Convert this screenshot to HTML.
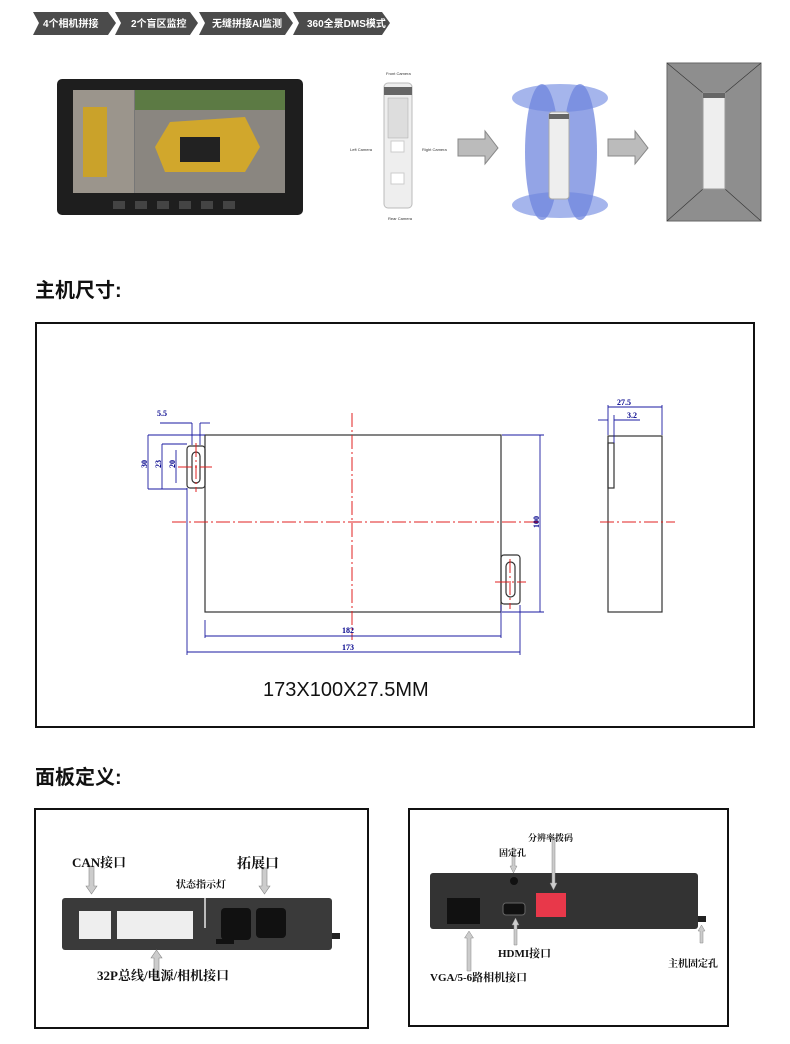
<!DOCTYPE html>
<html><head><meta charset="utf-8"><style>
body{margin:0;width:790px;height:1044px;background:#fff;position:relative;overflow:hidden;font-family:"Liberation Sans","Noto Sans CJK SC",sans-serif}
.a{position:absolute}
.h{font-weight:bold;font-size:20px;color:#111}
.lbl{position:absolute;font-family:"Liberation Serif","Noto Serif CJK SC",serif;font-weight:bold;color:#111}
</style></head><body>
<svg class="a" style="left:0;top:0" width="400" height="40">
<g fill="#4b4b4b">
<polygon points="33,12 108,12 116,23 108,35 33,35 39,23"/>
<polygon points="115,12 190,12 198,23 190,35 115,35 121,23"/>
<polygon points="199,12 285,12 293,23 285,35 199,35 205,23"/>
<polygon points="293,12 382,12 390,23 382,35 293,35 299,23"/>
</g>
<g fill="#fff" font-size="10" font-family="Liberation Sans,Noto Sans CJK SC,sans-serif" font-weight="bold">
<text x="43" y="27">4个相机拼接</text><text x="131" y="27">2个盲区监控</text>
<text x="212" y="27">无缝拼接AI监测</text><text x="307" y="27">360全景DMS模式</text></g>
</svg>
<svg class="a" style="left:55;top:77" width="252" height="142">
<rect x="2" y="2" width="246" height="136" rx="5" fill="#1e1e1e"/>
<rect x="18" y="13" width="212" height="103" fill="#777"/>
<rect x="18" y="13" width="61" height="103" fill="#9b958c"/>
<rect x="80" y="13" width="150" height="103" fill="#8a8680"/>
<rect x="80" y="13" width="150" height="20" fill="#5c7a44"/>
<rect x="28" y="30" width="24" height="70" fill="#caa22a"/>
<polygon points="115,45 190,40 205,70 190,95 110,95 100,70" fill="#d1a72c"/>
<rect x="125" y="60" width="40" height="25" fill="#222"/>
<g fill="#444"><rect x="58" y="124" width="12" height="8"/><rect x="80" y="124" width="12" height="8"/><rect x="102" y="124" width="12" height="8"/><rect x="124" y="124" width="12" height="8"/><rect x="146" y="124" width="12" height="8"/><rect x="168" y="124" width="12" height="8"/></g>
</svg>
<svg class="a" style="left:340;top:55" width="450" height="175" font-family="Liberation Sans,sans-serif" font-size="4" fill="#333">
<text x="46" y="20">Front Camera</text><text x="10" y="96">Left Camera</text><text x="82" y="96">Right Camera</text><text x="48" y="165">Rear Camera</text>
<rect x="44" y="28" width="28" height="125" rx="4" fill="#eee" stroke="#bbb"/>
<rect x="44" y="32" width="28" height="8" fill="#666"/>
<rect x="48" y="43" width="20" height="40" fill="#ddd" stroke="#aaa" stroke-width=".5"/>
<rect x="51" y="86" width="13" height="11" fill="#fff" stroke="#ccc"/><rect x="51" y="118" width="13" height="11" fill="#fff" stroke="#ccc"/>
<polygon points="118,84 145,84 145,76 158,93 145,109 145,101 118,101" fill="#bbb" stroke="#888"/>
<ellipse cx="220" cy="43" rx="48" ry="14" fill="#7f95e4" opacity=".7"/>
<ellipse cx="220" cy="150" rx="48" ry="13" fill="#7f95e4" opacity=".7"/>
<ellipse cx="202" cy="97" rx="17" ry="68" fill="#6f86de" opacity=".75"/>
<ellipse cx="240" cy="97" rx="17" ry="68" fill="#6f86de" opacity=".75"/>
<rect x="209" y="57" width="20" height="87" rx="3" fill="#eee" stroke="#aaa"/>
<rect x="209" y="59" width="20" height="5" fill="#666"/>
<polygon points="268,84 295,84 295,76 308,93 295,109 295,101 268,101" fill="#bbb" stroke="#888"/>
<rect x="327" y="8" width="94" height="158" fill="#8e8e8e" stroke="#666"/>
<path d="M327,8 L363,38 M421,8 L385,38 M327,166 L363,134 M421,166 L385,134" stroke="#333" stroke-width=".6"/>
<rect x="363" y="38" width="22" height="96" fill="#eee" stroke="#999"/>
<rect x="363" y="38" width="22" height="5" fill="#666"/>
</svg>
<div class="a h" style="left:35px;top:274px">主机尺寸:</div>
<div class="a" style="left:35px;top:322px;width:716px;height:402px;border:2px solid #111"></div>
<svg class="a" style="left:130;top:395" width="560" height="270" font-family="Liberation Serif,serif" font-size="8" font-weight="bold" fill="#00008b">
<g stroke="#333" fill="none" stroke-width="1.2">
<rect x="75" y="40" width="296" height="177"/>
<rect x="57" y="51" width="18" height="42" rx="3"/>
<rect x="62" y="57" width="8" height="31" rx="4"/>
<rect x="371" y="160" width="19" height="49" rx="3"/>
<rect x="376" y="167" width="9" height="35" rx="4.5"/>
<rect x="478" y="41" width="54" height="176"/>
<rect x="478" y="48" width="6" height="45"/>
</g>
<g stroke="#e02020" stroke-dasharray="14,3,2,3" stroke-width="1">
<line x1="222" y1="18" x2="222" y2="245"/><line x1="42" y1="127" x2="410" y2="127"/>
<line x1="470" y1="127" x2="545" y2="127"/><line x1="48" y1="72" x2="82" y2="72"/><line x1="66" y1="48" x2="66" y2="97"/>
<line x1="365" y1="187" x2="396" y2="187"/><line x1="380" y1="164" x2="380" y2="214"/>
</g>
<g stroke="#1a1aa0" stroke-width=".9" fill="none">
<line x1="410" y1="40" x2="410" y2="217"/><line x1="372" y1="40" x2="414" y2="40"/><line x1="372" y1="217" x2="414" y2="217"/>
<line x1="75" y1="225" x2="75" y2="243"/><line x1="371" y1="210" x2="371" y2="243"/><line x1="75" y1="241" x2="371" y2="241"/>
<line x1="57" y1="93" x2="57" y2="260"/><line x1="390" y1="210" x2="390" y2="260"/><line x1="57" y1="257" x2="390" y2="257"/>
<line x1="18" y1="40" x2="18" y2="94"/><line x1="18" y1="40" x2="75" y2="40"/><line x1="18" y1="94" x2="57" y2="94"/>
<line x1="32" y1="49" x2="32" y2="94"/><line x1="32" y1="49" x2="57" y2="49"/><line x1="46" y1="55" x2="46" y2="88"/>
<line x1="30" y1="28" x2="62" y2="28"/><line x1="62" y1="28" x2="62" y2="50"/><line x1="70" y1="28" x2="80" y2="28"/><line x1="70" y1="28" x2="70" y2="50"/>
<line x1="478" y1="10" x2="478" y2="40"/><line x1="532" y1="10" x2="532" y2="40"/><line x1="478" y1="12" x2="532" y2="12"/>
<line x1="468" y1="25" x2="478" y2="25"/><line x1="484" y1="25" x2="510" y2="25"/><line x1="484" y1="20" x2="484" y2="48"/>
</g>
<text x="212" y="238">182</text><text x="212" y="255">173</text>
<text x="27" y="21">5.5</text><text x="487" y="10">27.5</text><text x="497" y="23">3.2</text>
<text transform="translate(409,133) rotate(-90)">100</text>
<text transform="translate(17,73) rotate(-90)">30</text><text transform="translate(31,73) rotate(-90)">23</text><text transform="translate(45,73) rotate(-90)">20</text>
</svg>
<div class="a" style="left:263px;top:679px;font-size:20px;color:#111">173X100X27.5MM</div>
<div class="a h" style="left:35px;top:761px">面板定义:</div>
<div class="a" style="left:34px;top:808px;width:331px;height:217px;border:2px solid #111"></div>
<svg class="a" style="left:34;top:808" width="335" height="220">
<rect x="28" y="90" width="270" height="52" rx="3" fill="#3a3a3a"/>
<rect x="298" y="125" width="8" height="6" fill="#222"/>
<rect x="45" y="103" width="32" height="28" fill="#eee"/>
<rect x="83" y="103" width="76" height="28" fill="#eee"/>
<rect x="187" y="100" width="30" height="32" rx="4" fill="#111"/>
<rect x="222" y="100" width="30" height="30" rx="4" fill="#111"/>
<rect x="182" y="131" width="18" height="5" fill="#111"/>
<g fill="#ccc" stroke="#888" stroke-width=".6">
<path d="M55,58 h5 v20 h3 l-5.5,8 l-5.5,-8 h3z"/>
<path d="M228,60 h5 v18 h3 l-5.5,8 l-5.5,-8 h3z"/>
<path d="M120,170 h5 v-20 h3 l-5.5,-8 l-5.5,8 h3z"/>
</g>
<rect x="170" y="90" width="2" height="30" fill="#bbb"/>
</svg>
<div class="lbl" style="left:72px;top:852px;font-size:13px">CAN接口</div>
<div class="lbl" style="left:237px;top:853px;font-size:14px">拓展口</div>
<div class="lbl" style="left:176px;top:876px;font-size:10px">状态指示灯</div>
<div class="lbl" style="left:97px;top:965px;font-size:13px">32P总线/电源/相机接口</div>
<div class="a" style="left:408px;top:808px;width:317px;height:215px;border:2px solid #111"></div>
<svg class="a" style="left:408;top:808" width="320" height="220">
<rect x="22" y="65" width="268" height="56" rx="3" fill="#333"/>
<rect x="290" y="108" width="8" height="6" fill="#222"/>
<rect x="39" y="90" width="33" height="26" fill="#111"/>
<rect x="95" y="95" width="22" height="12" rx="3" fill="#111" stroke="#666"/>
<rect x="128" y="85" width="30" height="24" fill="#e8384a"/>
<circle cx="106" cy="73" r="4" fill="#111"/>
<g fill="#ccc" stroke="#888" stroke-width=".5">
<path d="M59,163 h4 v-33 h2.5 l-4.5,-7 l-4.5,7 h2.5z"/>
<path d="M104,40 h3 v18 h2 l-3.5,7 l-3.5,-7 h2z"/>
<path d="M144,30 h3 v45 h2 l-3.5,7 l-3.5,-7 h2z"/>
<path d="M106,137 h3 v-20 h2 l-3.5,-7 l-3.5,7 h2z"/>
<path d="M292,135 h3 v-12 h2 l-3.5,-6 l-3.5,6 h2z"/>
</g>
</svg>
<div class="lbl" style="left:528px;top:831px;font-size:9px">分辨率拨码</div>
<div class="lbl" style="left:499px;top:846px;font-size:9px">固定孔</div>
<div class="lbl" style="left:498px;top:945px;font-size:11px">HDMI接口</div>
<div class="lbl" style="left:430px;top:969px;font-size:11px">VGA/5-6路相机接口</div>
<div class="lbl" style="left:668px;top:955px;font-size:10px">主机固定孔</div>
</body></html>
